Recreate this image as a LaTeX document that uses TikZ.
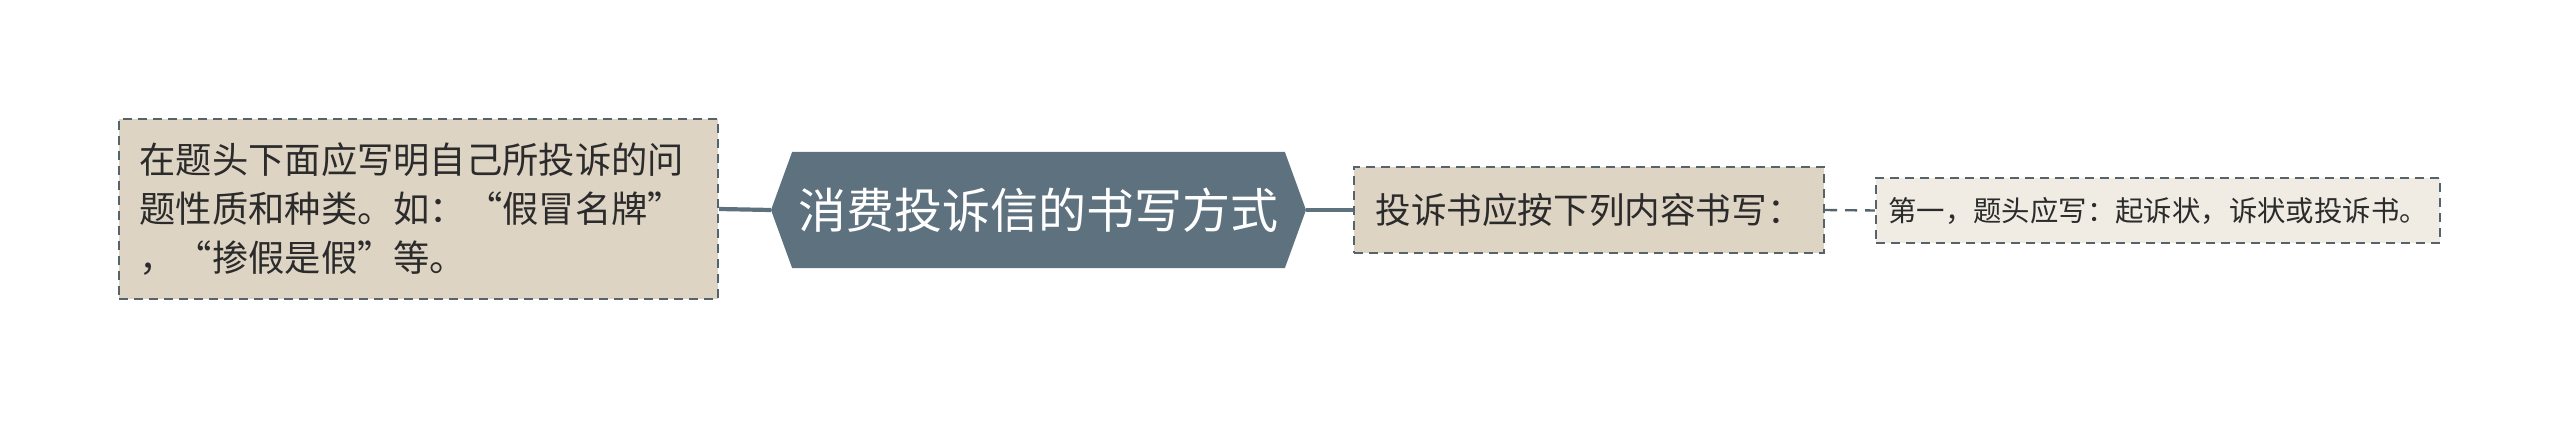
\documentclass[tikz,border=0pt]{standalone}
\usepackage{fontspec}
\setmainfont{Noto Sans CJK SC}
\usetikzlibrary{shapes.symbols}
\definecolor{slate}{HTML}{5D717F}
\definecolor{tan}{HTML}{DED4C4}
\definecolor{pale}{HTML}{F0ECE4}
\definecolor{txt}{HTML}{2B2B2B}
\definecolor{edge}{HTML}{56636D}
\begin{document}
\begin{tikzpicture}[x=1pt,y=1pt,
  leaf/.style={draw=edge, line width=2.2pt, dash pattern=on 9pt off 6pt, text=txt, inner sep=0pt, align=left},
  link/.style={draw=slate, line width=4.2pt},
  dlink/.style={draw=edge, line width=2.4pt, dash pattern=on 12pt off 8pt}]
\useasboundingbox (0,0) rectangle (2560,-422);
\node[signal, signal to=east and west, signal pointer angle=140, fill=slate, text=white,
  minimum width=535pt, minimum height=116pt, inner sep=0pt, font=\fontsize{48}{56}\selectfont]
  (hex) at (1038.5,-210) {消费投诉信的书写方式};
\node[leaf, fill=tan, minimum width=599pt, minimum height=180pt, text width=558pt,
  font=\fontsize{36.3}{49}\selectfont] (left) at (418.5,-209)
  {在题头下面应写明自己所投诉的问\\题性质和种类。如：“假冒名牌”\\，“掺假是假”等。};
\node[leaf, fill=tan, minimum width=470pt, minimum height=86pt,
  font=\fontsize{35.6}{42}\selectfont] (b1) at (1589,-210) {投诉书应按下列内容书写：};
\node[leaf, fill=pale, minimum width=564pt, minimum height=65pt,
  font=\fontsize{28.4}{34}\selectfont] (b2) at (2158,-210.5) {第一，题头应写：起诉状，诉状或投诉书。};
\draw[link] (left.east) -- (hex.west);
\draw[link] (hex.east) -- (b1.west);
\draw[dlink] (b1.east) -- (b2.west);
\end{tikzpicture}
\end{document}
